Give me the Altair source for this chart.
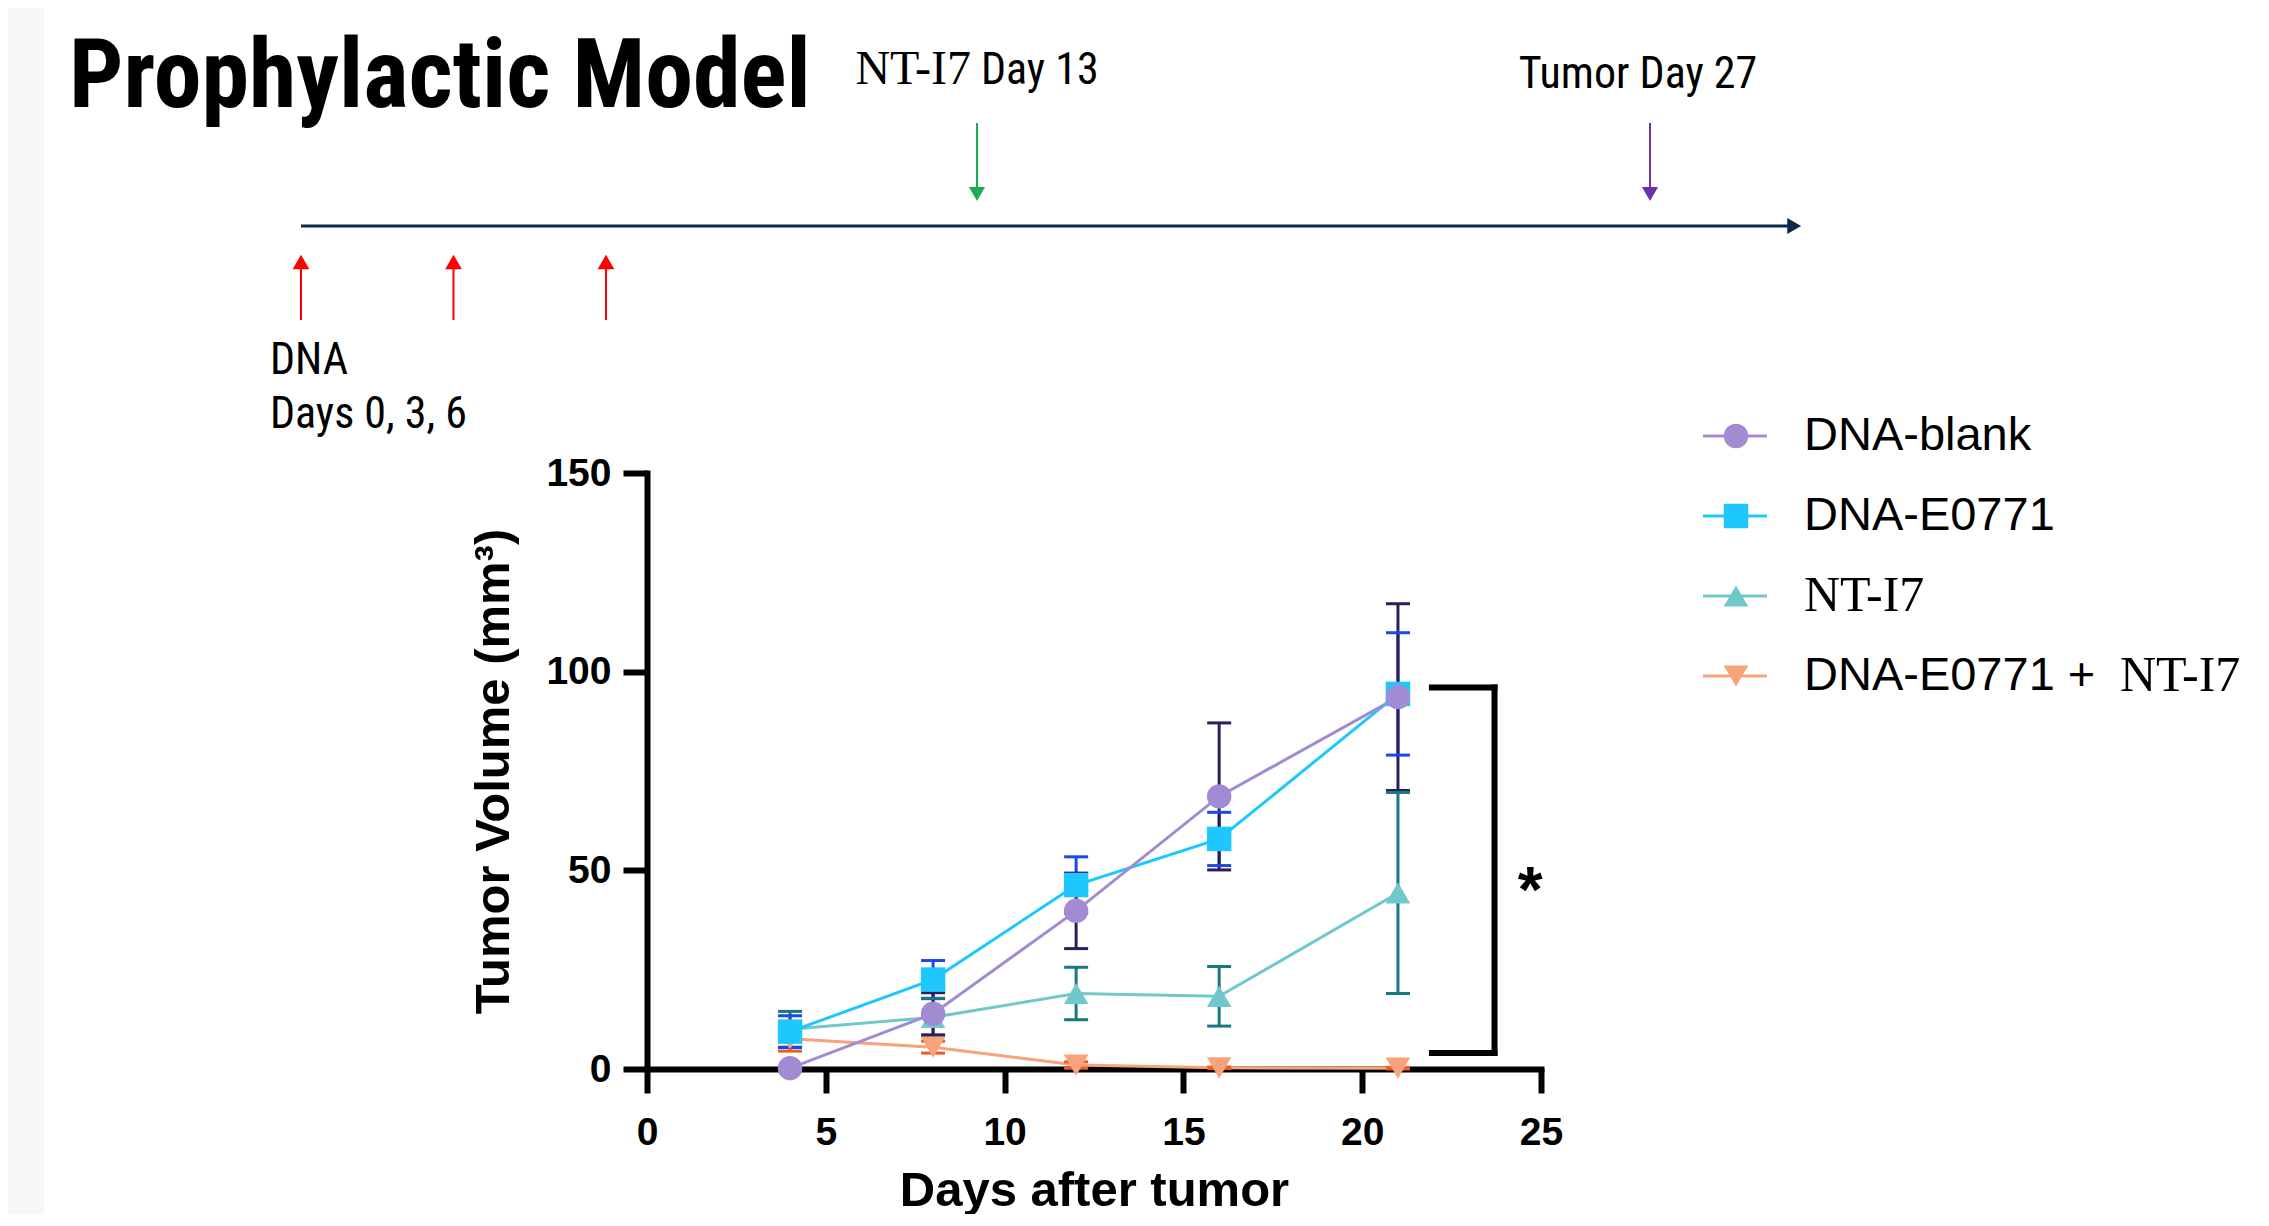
import altair as alt
import pandas as pd

# ---------------- data ----------------
days = [4, 8, 12, 16, 21]
series = ["DNA-blank", "DNA-E0771", "NT-I7", "DNA-E0771 + NT-I7"]

mean_blank = [0.2, 13.9, 39.8, 68.6, 93.6]
sem_blank = [0.0, 5.3, 9.5, 18.5, 23.5]
mean_e0771 = [9.4, 22.5, 46.3, 57.9, 94.4]
sem_e0771 = [4.0, 4.8, 7.1, 6.7, 15.4]
mean_nti7 = [10.0, 13.0, 19.0, 18.3, 44.3]
sem_nti7 = [4.5, 4.8, 6.6, 7.5, 25.3]
mean_combo = [7.6, 5.5, 1.0, 0.3, 0.2]
sem_combo = [3.1, 1.5, 0.8, 0.2, 0.2]

# significance bracket (data units) and its label
bracket_x = [21.95, 23.7]
bracket_y = [4.0, 96.0]
star_label = "*"
star_x = [24.7]
star_y = [46.8]

# schedule (timeline) annotations
dna_days = [0, 3, 6]
nti7_day = 13
tumor_day = 27
timeline_end = 30

chart_title = "Prophylactic Model"
x_ticks = [0, 5, 10, 15, 20, 25]
y_ticks = [0, 50, 100, 150]
x_title = "Days after tumor"
y_title = "Tumor Volume (mm\u00b3)"

legend_sans = ["DNA-blank", "DNA-E0771", "", "DNA-E0771 + "]
legend_serif = ["", "", "NT-I7", "NT-I7"]

# ---------------- styles ----------------
line_colors = ["#a38bd3", "#1ec8ff", "#70c8cb", "#f9a37b"]
bar_colors = ["#2c1e5c", "#1a49e6", "#17797f", "#f05a24"]
shapes = ["circle", "square", "triangle-up", "triangle-down"]

SANS = "Liberation Sans, Arial, Helvetica, sans-serif"
NARROW = ("Liberation Sans Narrow, Arial Narrow, Roboto Condensed, Noto Sans Condensed, "
          "DejaVu Sans Condensed, Roboto")
SERIF = "Liberation Serif, Times New Roman, serif"

W, H = 894, 596
PAD_L, PAD_T = 639, 465
TOTAL_W, TOTAL_H = 2250, 1206

# ---------------- tables ----------------
means = [mean_blank, mean_e0771, mean_nti7, mean_combo]
sems = [sem_blank, sem_e0771, sem_nti7, sem_combo]
rows = []
for s, m, e in zip(series, means, sems):
    for d, mv, ev in zip(days, m, e):
        rows.append(dict(series=s, day=d, mean=mv, lo=mv - ev, hi=mv + ev))
df = pd.DataFrame(rows).iloc[::-1].reset_index(drop=True)

# ---------------- main plot ----------------
axis_common = dict(
    domainColor="black", domainWidth=6, domainCap="square",
    tickColor="black", tickWidth=6, tickSize=24,
    labelColor="black", labelFont=SANS, labelFontWeight="bold", labelFontSize=39,
    titleColor="black", titleFont=SANS, titleFontWeight="bold", titleFontSize=49,
    grid=False, labelFlush=False, format="d",
)
x_axis = alt.Axis(values=x_ticks, title=x_title, labelPadding=20, titlePadding=14, **axis_common)
y_axis = alt.Axis(values=y_ticks, title=y_title, labelPadding=12, titlePadding=27, **axis_common)
x_scale = alt.Scale(domain=[0, 25], nice=False, zero=False)
y_scale = alt.Scale(domain=[0, 150], nice=False, zero=False)

col_line = alt.Color("series:N", scale=alt.Scale(domain=series, range=line_colors), legend=None)
col_bar = alt.Color("series:N", scale=alt.Scale(domain=series, range=bar_colors), legend=None)
shp = alt.Shape("series:N", scale=alt.Scale(domain=series, range=shapes), legend=None)

base = alt.Chart(df)
xd = alt.X("day:Q", scale=x_scale, axis=x_axis)

lines = base.mark_line(strokeWidth=3).encode(
    x=xd, y=alt.Y("mean:Q", scale=y_scale, axis=y_axis), color=col_line)
err = base.mark_rule(strokeWidth=3).encode(
    x=xd, y=alt.Y("lo:Q", scale=y_scale, axis=y_axis), y2="hi:Q", color=col_bar)
cap_lo = base.mark_tick(orient="horizontal", size=24, thickness=3, opacity=1).encode(
    x=xd, y=alt.Y("lo:Q", scale=y_scale, axis=y_axis), color=col_bar)
cap_hi = base.mark_tick(orient="horizontal", size=24, thickness=3, opacity=1).encode(
    x=xd, y=alt.Y("hi:Q", scale=y_scale, axis=y_axis), color=col_bar)
points = base.mark_point(filled=True, size=600, opacity=1).encode(
    x=xd, y=alt.Y("mean:Q", scale=y_scale, axis=y_axis), color=col_line, shape=shp)

br_v = pd.DataFrame({"day": [bracket_x[1]], "v0": [bracket_y[0]], "v1": [bracket_y[1]]})
br_h = pd.DataFrame({"day": [bracket_x[0]] * 2, "day2": [bracket_x[1]] * 2, "v0": bracket_y})
bracket_v = alt.Chart(br_v).mark_rule(strokeWidth=6, color="black", strokeCap="square").encode(
    x=xd, y=alt.Y("v0:Q", scale=y_scale, axis=y_axis), y2="v1:Q")
bracket_h = alt.Chart(br_h).mark_rule(strokeWidth=6, color="black", strokeCap="square").encode(
    x=xd, x2="day2:Q", y=alt.Y("v0:Q", scale=y_scale, axis=y_axis))
star = alt.Chart(pd.DataFrame({"day": star_x, "v0": star_y, "t": [star_label]})).mark_text(
    font=SANS, fontWeight="bold", fontSize=64, color="black", baseline="middle", dy=10
).encode(x=xd, y=alt.Y("v0:Q", scale=y_scale, axis=y_axis), text="t:N")

main = alt.layer(lines, err, cap_lo, cap_hi, points, bracket_v, bracket_h, star).resolve_scale(
    color="independent", shape="independent")

# ---------------- timeline schematic ----------------
tl_scale = alt.Scale(domain=[0, 6, 13, 27], range=[-346, -41, 330, 1003], nice=False, zero=False)
tx = alt.X("day:Q", scale=tl_scale, axis=None)
TL_Y = -247

tl_line = alt.Chart(pd.DataFrame({"day": [0], "day2": [timeline_end]})).mark_rule(
    strokeWidth=3, color="#0c2a4c").encode(x=tx, x2="day2:Q", y=alt.value(TL_Y))
tl_head = alt.Chart(pd.DataFrame({"day": [timeline_end]})).mark_point(
    shape="triangle-right", filled=True, size=260, opacity=1, color="#0c2a4c").encode(x=tx, y=alt.value(TL_Y))

dna_df = pd.DataFrame({"day": dna_days})
red_shaft = alt.Chart(dna_df).mark_rule(strokeWidth=2, color="#ff0000").encode(
    x=tx, y=alt.value(-153), y2=alt.value(-211))
red_head = alt.Chart(dna_df).mark_point(shape="triangle-up", filled=True, size=280, opacity=1,
                                        color="#ff0000").encode(x=tx, y=alt.value(-211))

nt_df = pd.DataFrame({"day": [nti7_day], "a": ["NT-I7"], "b": [f"Day {nti7_day}"]})
tu_df = pd.DataFrame({"day": [tumor_day], "a": [f"Tumor Day {tumor_day}"]})
green_shaft = alt.Chart(nt_df).mark_rule(strokeWidth=2, color="#16b04e").encode(
    x=tx, y=alt.value(-350), y2=alt.value(-279))
green_head = alt.Chart(nt_df).mark_point(shape="triangle-down", filled=True, size=260, opacity=1,
                                         color="#16b04e").encode(x=tx, y=alt.value(-279))
purple_shaft = alt.Chart(tu_df).mark_rule(strokeWidth=2, color="#7030a0").encode(
    x=tx, y=alt.value(-350), y2=alt.value(-279))
purple_head = alt.Chart(tu_df).mark_point(shape="triangle-down", filled=True, size=260, opacity=1,
                                          color="#7030a0").encode(x=tx, y=alt.value(-279))

nt_a = alt.Chart(nt_df).mark_text(font=SERIF, fontSize=48, align="right", baseline="alphabetic",
                                  dx=-6, color="black").encode(x=tx, y=alt.value(-389), text="a:N")
nt_b = alt.Chart(nt_df).mark_text(font=NARROW, fontSize=44, align="left", baseline="alphabetic",
                                  dx=4, color="black").encode(x=tx, y=alt.value(-389), text="b:N")
tu_t = alt.Chart(tu_df).mark_text(font=NARROW, fontSize=44, align="center", baseline="alphabetic",
                                  dx=-12, color="black").encode(x=tx, y=alt.value(-385), text="a:N")
dna_txt = pd.DataFrame({"day": [dna_days[0]], "a": ["DNA"],
                        "b": ["Days " + ", ".join(str(d) for d in dna_days)]})
dna_a = alt.Chart(dna_txt).mark_text(font=NARROW, fontSize=44, align="left", baseline="alphabetic",
                                     dx=-31, color="black").encode(x=tx, y=alt.value(-99), text="a:N")
dna_b = alt.Chart(dna_txt).mark_text(font=NARROW, fontSize=44, align="left", baseline="alphabetic",
                                     dx=-31, color="black").encode(x=tx, y=alt.value(-45), text="b:N")

timeline = alt.layer(tl_line, tl_head, red_shaft, red_head, green_shaft, green_head,
                     purple_shaft, purple_head, nt_a, nt_b, tu_t, dna_a, dna_b)

# ---------------- legend ----------------
leg_df = pd.DataFrame({"series": series, "sans": legend_sans, "serif": legend_serif})
ly = alt.Y("series:N", scale=alt.Scale(type="point", domain=series, range=[-37, 203], padding=0), axis=None)
lbase = alt.Chart(leg_df)
leg_rule = lbase.mark_rule(strokeWidth=3).encode(
    x=alt.value(1056), x2=alt.value(1120), y=ly, color=col_line)
leg_pt = lbase.mark_point(filled=True, size=600, opacity=1).encode(
    x=alt.value(1089), y=ly, color=col_line, shape=shp)
leg_sans = lbase.mark_text(font=SANS, fontSize=47, align="left", baseline="middle", color="black").encode(
    x=alt.value(1157), y=ly, text="sans:N")
leg_serif1 = lbase.transform_filter(alt.datum.series == series[2]).mark_text(
    font=SERIF, fontSize=50, align="left", baseline="middle", color="black").encode(
    x=alt.value(1157), y=ly, text="serif:N")
leg_serif2 = lbase.transform_filter(alt.datum.series == series[3]).mark_text(
    font=SERIF, fontSize=50, align="left", baseline="middle", color="black", dx=316).encode(
    x=alt.value(1157), y=ly, text="serif:N")
legend = alt.layer(leg_rule, leg_pt, leg_sans, leg_serif1, leg_serif2)

# ---------------- decorations ----------------
one = pd.DataFrame({"t": [chart_title]})
strip = alt.Chart(one).mark_rect(color="#f7f7f7").encode(
    x=alt.value(-PAD_L), x2=alt.value(-PAD_L + 36), y=alt.value(-PAD_T), y2=alt.value(TOTAL_H - PAD_T))
title = alt.Chart(one).mark_text(font=NARROW, fontSize=96, fontWeight="bold", align="left",
                                 baseline="alphabetic", color="black").encode(
    x=alt.value(-578), y=alt.value(-366), text="t:N")
decor = alt.layer(strip, title)

chart = alt.layer(decor, timeline, main, legend).resolve_scale(
    x="independent", y="independent", color="independent", shape="independent"
).properties(
    width=W, height=H,
    autosize=alt.AutoSizeParams(type="none"),
    padding={"left": PAD_L, "top": PAD_T, "right": TOTAL_W - PAD_L - W, "bottom": TOTAL_H - PAD_T - H},
    background="white",
).configure_view(stroke=None)

chart.save("out.html", embed_options={"renderer": "svg", "actions": False})
